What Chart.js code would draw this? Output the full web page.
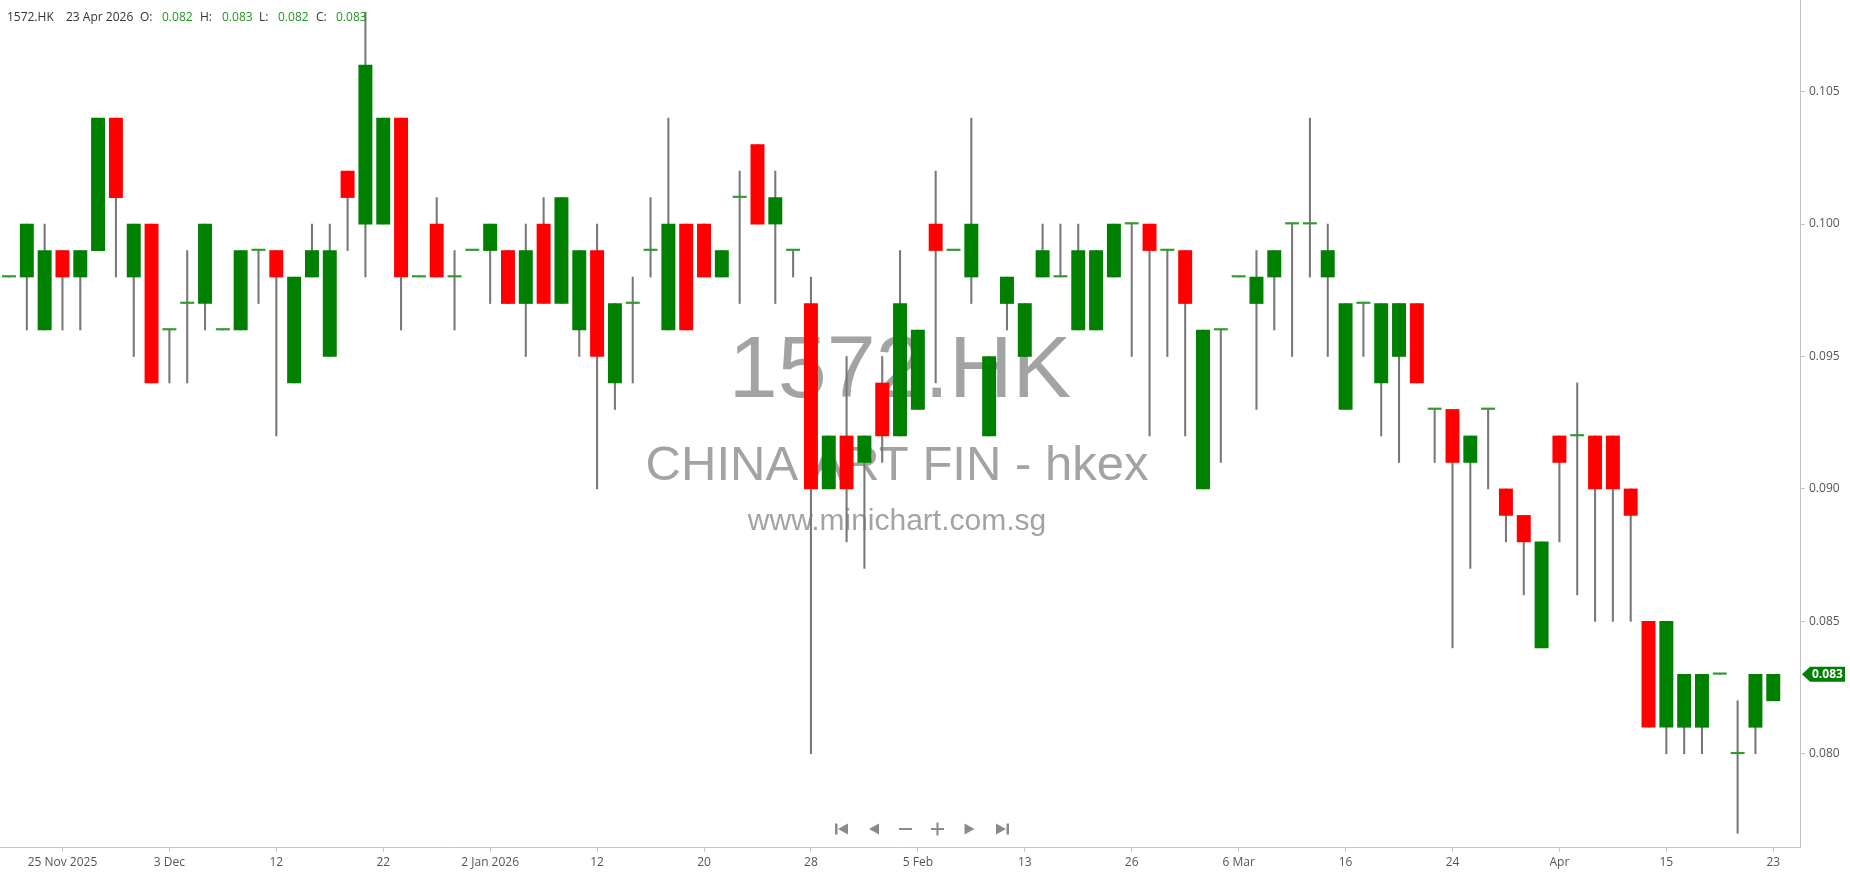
<!DOCTYPE html>
<html>
<head>
<meta charset="utf-8">
<title>1572.HK</title>
<script src="https://cdn.jsdelivr.net/npm/chart.js@4.4.1/dist/chart.umd.min.js"></script>
<style>
html, body { margin: 0; padding: 0; background: #fff; }
canvas { display: block; }
</style>
</head>
<body>
<canvas id="priceChart" width="1850" height="874"></canvas>
<script>
// chart data
const symbol = '1572.HK';
const company = 'CHINA ART FIN - hkex';
const site = 'www.minichart.com.sg';

const dates = [
  '2025-11-20','2025-11-21','2025-11-24','2025-11-25','2025-11-26','2025-11-27','2025-11-28',
  '2025-12-01','2025-12-02','2025-12-03','2025-12-04','2025-12-05','2025-12-08','2025-12-09','2025-12-11','2025-12-12',
  '2025-12-15','2025-12-16','2025-12-17','2025-12-18','2025-12-19','2025-12-22','2025-12-23','2025-12-24',
  '2025-12-29','2025-12-30','2025-12-31','2026-01-02',
  '2026-01-05','2026-01-06','2026-01-07','2026-01-08','2026-01-09','2026-01-12','2026-01-13','2026-01-14','2026-01-15','2026-01-16',
  '2026-01-19','2026-01-20','2026-01-21','2026-01-22','2026-01-23','2026-01-26','2026-01-27','2026-01-28','2026-01-29','2026-01-30',
  '2026-02-02','2026-02-03','2026-02-04','2026-02-05','2026-02-06','2026-02-09','2026-02-10','2026-02-11','2026-02-12','2026-02-13',
  '2026-02-16','2026-02-20','2026-02-23','2026-02-24','2026-02-25','2026-02-26','2026-02-27',
  '2026-03-02','2026-03-03','2026-03-04','2026-03-05','2026-03-06','2026-03-09','2026-03-10','2026-03-11','2026-03-12','2026-03-13',
  '2026-03-16','2026-03-17','2026-03-18','2026-03-19','2026-03-20','2026-03-23','2026-03-24','2026-03-25','2026-03-26','2026-03-27',
  '2026-03-30','2026-03-31','2026-04-01','2026-04-02','2026-04-09','2026-04-10',
  '2026-04-13','2026-04-14','2026-04-15','2026-04-16','2026-04-17','2026-04-20','2026-04-21','2026-04-22','2026-04-23'
];
const opens = [
  0.098,0.098,0.096,0.099,0.098,0.099,0.104,0.098,0.100,0.096,0.097,0.097,0.096,0.096,0.099,0.099,
  0.094,0.098,0.095,0.102,0.100,0.100,0.104,0.098,0.100,0.098,0.099,0.099,0.099,0.097,0.100,0.097,
  0.096,0.099,0.094,0.097,0.099,0.096,0.100,0.100,0.098,0.101,0.103,0.100,0.099,0.097,0.090,0.092,
  0.091,0.094,0.092,0.093,0.100,0.099,0.098,0.092,0.097,0.095,0.098,0.098,0.096,0.096,0.098,0.100,
  0.100,0.099,0.099,0.090,0.096,0.098,0.097,0.098,0.100,0.100,0.098,0.093,0.097,0.094,0.095,0.097,
  0.093,0.093,0.091,0.093,0.090,0.089,0.084,0.092,0.092,0.092,0.092,0.090,0.085,0.081,0.081,0.081,
  0.083,0.080,0.081,0.082
];
const highs = [
  0.098,0.100,0.100,0.099,0.099,0.104,0.104,0.100,0.100,0.096,0.099,0.100,0.096,0.099,0.099,0.099,
  0.098,0.100,0.100,0.102,0.108,0.104,0.104,0.098,0.101,0.099,0.099,0.100,0.099,0.100,0.101,0.101,
  0.099,0.100,0.097,0.098,0.101,0.104,0.100,0.100,0.099,0.102,0.103,0.102,0.099,0.098,0.092,0.095,
  0.092,0.095,0.099,0.096,0.102,0.099,0.104,0.095,0.098,0.097,0.100,0.100,0.100,0.099,0.100,0.100,
  0.100,0.099,0.099,0.096,0.096,0.098,0.099,0.099,0.100,0.104,0.100,0.097,0.097,0.097,0.097,0.097,
  0.093,0.093,0.092,0.093,0.090,0.089,0.088,0.092,0.094,0.092,0.092,0.090,0.085,0.085,0.083,0.083,
  0.083,0.082,0.083,0.083
];
const lows = [
  0.098,0.096,0.096,0.096,0.096,0.099,0.098,0.095,0.094,0.094,0.094,0.096,0.096,0.096,0.097,0.092,
  0.094,0.098,0.095,0.099,0.098,0.100,0.096,0.098,0.098,0.096,0.099,0.097,0.097,0.095,0.097,0.097,
  0.095,0.090,0.093,0.094,0.098,0.096,0.096,0.098,0.098,0.097,0.100,0.097,0.098,0.080,0.090,0.088,
  0.087,0.091,0.092,0.093,0.094,0.099,0.097,0.092,0.096,0.095,0.098,0.098,0.096,0.096,0.098,0.095,
  0.092,0.095,0.092,0.090,0.091,0.098,0.093,0.096,0.095,0.098,0.095,0.093,0.095,0.092,0.091,0.094,
  0.091,0.084,0.087,0.090,0.088,0.086,0.084,0.088,0.086,0.085,0.085,0.085,0.081,0.080,0.080,0.080,
  0.083,0.077,0.080,0.082
];
const closes = [
  0.098,0.100,0.099,0.098,0.099,0.104,0.101,0.100,0.094,0.096,0.097,0.100,0.096,0.099,0.099,0.098,
  0.098,0.099,0.099,0.101,0.106,0.104,0.098,0.098,0.098,0.098,0.099,0.100,0.097,0.099,0.097,0.101,
  0.099,0.095,0.097,0.097,0.099,0.100,0.096,0.098,0.099,0.101,0.100,0.101,0.099,0.090,0.092,0.090,
  0.092,0.092,0.097,0.096,0.099,0.099,0.100,0.095,0.098,0.097,0.099,0.098,0.099,0.099,0.100,0.100,
  0.099,0.099,0.097,0.096,0.096,0.098,0.098,0.099,0.100,0.100,0.099,0.097,0.097,0.097,0.097,0.094,
  0.093,0.091,0.092,0.093,0.089,0.088,0.088,0.091,0.092,0.090,0.090,0.089,0.081,0.085,0.083,0.083,
  0.083,0.080,0.083,0.083
];
const yTicks = [0.080, 0.085, 0.090, 0.095, 0.100, 0.105];
const tickDates = ['2025-11-25','2025-12-03','2025-12-12','2025-12-22','2026-01-02','2026-01-12','2026-01-20','2026-01-28',
  '2026-02-05','2026-02-13','2026-02-26','2026-03-06','2026-03-16','2026-03-24','2026-04-01','2026-04-15','2026-04-23'];
const tickTexts = ['25 Nov 2025','3 Dec','12','22','2 Jan 2026','12','20','28','5 Feb','13','26','6 Mar','16','24','Apr','15','23'];

const UP = '#008000', DOWN = '#ff0000', FLAT = '#2f9a2f', WICK = '#777777';
const MONTHS = ['Jan','Feb','Mar','Apr','May','Jun','Jul','Aug','Sep','Oct','Nov','Dec'];
const axisFont = { family: "'Open Sans', 'DejaVu Sans', sans-serif", size: 12 };

const bodyData = opens.map((o, i) => ({ x: i, y: [o, closes[i]] }));
const wickData = lows.map((l, i) => ({ x: i, y: [l, highs[i]] }));
const bodyColors = opens.map((o, i) => closes[i] > o ? UP : (closes[i] < o ? DOWN : FLAT));
const tickIndex = tickDates.map(d => dates.indexOf(d));

function fmtDate(iso){
    const p = iso.split('-');
    return parseInt(p[2], 10) + ' ' + MONTHS[parseInt(p[1], 10) - 1] + ' ' + p[0];
}

// big grey text behind the candles
const watermark = {
    id: 'watermark',
    beforeDatasetsDraw(chart){
        const c = chart.ctx, a = chart.chartArea;
        const cx = (a.left + a.right) / 2;
        c.save();
        c.fillStyle = '#a3a3a3';
        c.textAlign = 'center';
        c.textBaseline = 'alphabetic';
        c.font = "88px 'Liberation Sans', Arial, sans-serif";
        c.fillText(symbol, cx, 397);
        c.font = "49px 'Liberation Sans', Arial, sans-serif";
        c.fillText(company, cx - 3, 480);
        c.font = "30px 'Liberation Sans', Arial, sans-serif";
        c.fillText(site, cx - 3, 530);
        c.restore();
    }
};

// OHLC header, last price tag and the little nav buttons
const overlay = {
    id: 'overlay',
    afterDraw(chart){
        const c = chart.ctx;
        const n = closes.length - 1;
        c.save();
        c.textBaseline = 'middle';
        c.textAlign = 'left';
        c.font = "12px 'Open Sans', sans-serif";
        const parts = [
            [symbol, 7, '#333'], [fmtDate(dates[n]), 66, '#333'],
            ['O:', 140, '#333'], [opens[n].toFixed(3), 162, '#1e961e'],
            ['H:', 200, '#333'], [highs[n].toFixed(3), 222, '#1e961e'],
            ['L:', 259, '#333'], [lows[n].toFixed(3), 278, '#1e961e'],
            ['C:', 316, '#333'], [closes[n].toFixed(3), 336, '#1e961e']
        ];
        parts.forEach(p => { c.fillStyle = p[2]; c.fillText(p[0], p[1], 18); });

        // last close tag on the price axis
        const y = chart.scales.y.getPixelForValue(closes[n]);
        const x0 = chart.chartArea.right + 2;
        c.fillStyle = UP;
        c.beginPath();
        c.moveTo(x0, y);
        c.lineTo(x0 + 8, y - 7.5);
        c.lineTo(1845, y - 7.5);
        c.lineTo(1845, y + 7.5);
        c.lineTo(x0 + 8, y + 7.5);
        c.closePath();
        c.fill();
        c.fillStyle = '#fff';
        c.font = "bold 12px 'Open Sans', sans-serif";
        c.fillText(closes[n].toFixed(3), x0 + 10, y + 0.5);

        // navigation buttons
        c.fillStyle = '#8a8a8a';
        const ny = 829;
        const tri = (cx, dir) => {
            c.beginPath();
            c.moveTo(cx - 5 * dir, ny);
            c.lineTo(cx + 5 * dir, ny - 5.5);
            c.lineTo(cx + 5 * dir, ny + 5.5);
            c.closePath();
            c.fill();
        };
        c.fillRect(835, ny - 5.5, 2.5, 11); tri(843, 1);
        tri(874, 1);
        c.fillRect(899, ny - 1, 13, 2);
        c.fillRect(931, ny - 1, 13, 2); c.fillRect(936.5, ny - 6.5, 2, 13);
        tri(969.5, -1);
        tri(1001, -1); c.fillRect(1006.5, ny - 5.5, 2.5, 11);
        c.restore();
    }
};

new Chart(document.getElementById('priceChart').getContext('2d'), {
    type: 'bar',
    data: {
        datasets: [{
            data: bodyData,
            backgroundColor: bodyColors,
            barThickness: 13.3,
            minBarLength: 1.5,
            grouped: false,
            order: 0
        }, {
            data: wickData,
            backgroundColor: WICK,
            barThickness: 1.4,
            grouped: false,
            order: 1
        }]
    },
    options: {
        responsive: false,
        animation: false,
        layout: { padding: 0 },
        plugins: { legend: { display: false }, tooltip: { enabled: false } },
        scales: {
            x: {
                type: 'linear',
                offset: false,
                min: -0.505,
                max: 100.5,
                grid: { offset: false, drawOnChartArea: false, tickLength: 5, color: '#c8c8c8' },
                border: { color: '#c4c4c4' },
                ticks: {
                    font: axisFont, color: '#555', padding: 3, maxRotation: 0, autoSkip: false,
                    callback: (v) => tickTexts[tickIndex.indexOf(v)]
                },
                afterBuildTicks: (s) => { s.ticks = tickIndex.map(v => ({ value: v })); },
                afterFit: (s) => { s.height = 27; s.paddingLeft = 0; s.paddingRight = 0; }
            },
            y: {
                position: 'right',
                min: 0.07648,
                max: 0.10846,
                grid: { drawOnChartArea: false, tickLength: 5, color: '#c8c8c8' },
                border: { color: '#c4c4c4' },
                ticks: { font: axisFont, color: '#555', padding: 4, callback: (v) => v.toFixed(3) },
                afterBuildTicks: (s) => { s.ticks = yTicks.map(v => ({ value: v })); },
                afterFit: (s) => { s.width = 50; s.paddingTop = 0; s.paddingBottom = 0; }
            }
        }
    },
    plugins: [watermark, overlay]
});
</script>
</body>
</html>
